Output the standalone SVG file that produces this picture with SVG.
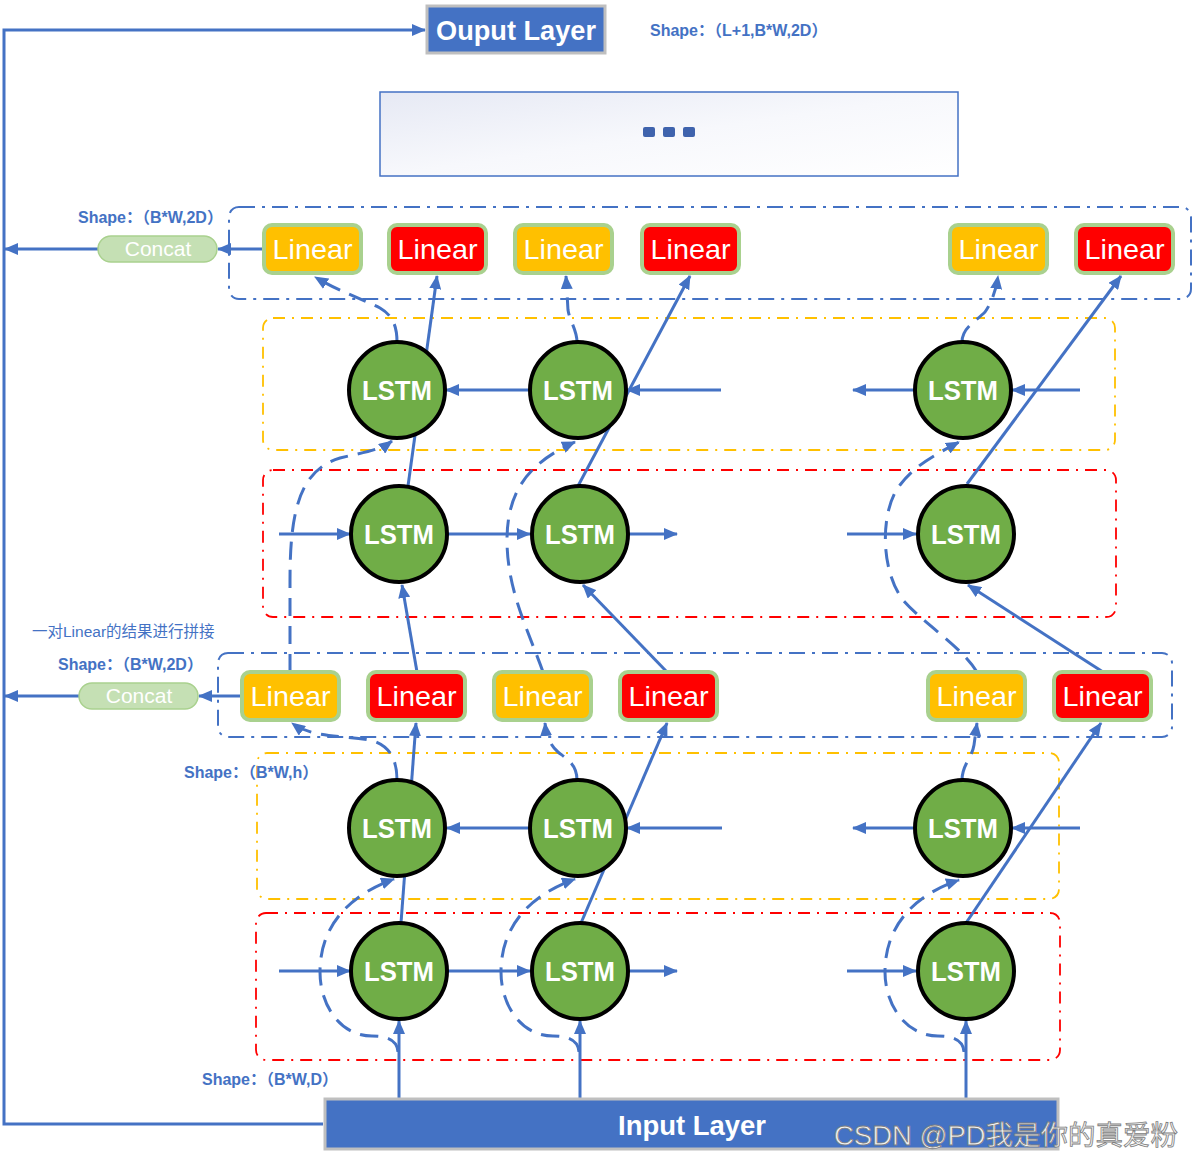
<svg xmlns="http://www.w3.org/2000/svg" width="1194" height="1159" viewBox="0 0 1194 1159">
<defs>
<linearGradient id="g1" x1="0" y1="0" x2="1" y2="1">
<stop offset="0" stop-color="#E6E9F4"/>
<stop offset="0.5" stop-color="#F7F8FC"/>
<stop offset="1" stop-color="#FFFFFF"/>
</linearGradient>
<marker id="ah" viewBox="0 0 14 12" refX="13" refY="6" markerWidth="14" markerHeight="12" orient="auto" markerUnits="userSpaceOnUse">
<path d="M0,0 L14,6 L0,12 z" fill="#4472C4"/>
</marker>
</defs>
<style>
.conn{fill:none;stroke:#4472C4;stroke-width:3}
.dash{stroke-dasharray:18 10}
.lin rect{stroke:#A9D18E;stroke-width:4}
.ly rect{fill:#FFC000}
.lr rect{fill:#FF0000}
.lin text{font-family:"Liberation Sans",Arial,sans-serif;font-size:28px;fill:#fff;text-anchor:middle}
.lstm circle{fill:#70AD47;stroke:#000;stroke-width:4}
.lstm text{font-family:"Liberation Sans",Arial,sans-serif;font-weight:bold;font-size:27px;fill:#fff;text-anchor:middle}
.shape{font-family:"Liberation Sans","Noto Sans CJK SC",sans-serif;font-weight:bold;font-size:16px;fill:#4472C4}
.fb{fill:none;stroke:#4472C4;stroke-width:2;stroke-dasharray:16 7 3 7}
.fy{fill:none;stroke:#FFC000;stroke-width:1.8;stroke-dasharray:12 7 2 7}
.fr{fill:none;stroke:#FF0000;stroke-width:1.8;stroke-dasharray:12 7 2 7}
.concat rect{fill:#C5E0B4;stroke:#A9D18E;stroke-width:1.5}
.concat text{font-family:"Liberation Sans",Arial,sans-serif;font-size:21px;fill:#fff;text-anchor:middle}
.layer rect{fill:#4472C4;stroke:#BFBFBF;stroke-width:3}
.layer text{font-family:"Liberation Sans",Arial,sans-serif;font-weight:bold;font-size:28px;fill:#fff;text-anchor:middle}
</style>
<rect width="1194" height="1159" fill="#fff"/>

<!-- frames -->
<g id="frames">
<rect class="fb" x="229" y="207" width="962" height="92" rx="10"/>
<rect class="fy" x="263" y="318" width="852" height="132" rx="10"/>
<rect class="fr" x="263" y="470" width="853" height="147" rx="10"/>
<rect class="fb" x="218" y="653" width="954" height="84" rx="10"/>
<rect class="fy" x="257" y="753" width="802" height="146" rx="10"/>
<rect class="fr" x="256" y="913" width="804" height="147" rx="10"/>
</g>

<!-- texts -->
<g id="labels">
<text class="shape" x="650" y="36">Shape：（L+1,B*W,2D）</text>
<text class="shape" x="78" y="223">Shape：（B*W,2D）</text>
<text class="shape" x="58" y="670">Shape：（B*W,2D）</text>
<text class="shape" x="184" y="778">Shape：（B*W,h）</text>
<text class="shape" x="202" y="1085">Shape：（B*W,D）</text>
<text x="32" y="637" font-family="'Liberation Sans','Noto Sans CJK SC',sans-serif" font-size="15.5" fill="#4472C4">一对Linear的结果进行拼接</text>
</g>

<!-- ellipsis box -->
<g id="ellipsis">
<rect x="380" y="92" width="578" height="84" fill="url(#g1)" stroke="#4472C4" stroke-width="1.5"/>
<rect x="643" y="127" width="12" height="10" rx="2" fill="#3F63AD"/>
<rect x="663" y="127" width="12" height="10" rx="2" fill="#3F63AD"/>
<rect x="683" y="127" width="12" height="10" rx="2" fill="#3F63AD"/>
</g>

<!-- connectors -->
<g id="connectors">
<path class="conn" d="M323,1124 L4,1124 L4,30 L425,30" marker-end="url(#ah)"/>
<path class="conn" d="M264,249 L218,249" marker-end="url(#ah)"/>
<path class="conn" d="M98,249 L5,249" marker-end="url(#ah)"/>
<path class="conn" d="M242,696 L199,696" marker-end="url(#ah)"/>
<path class="conn" d="M79,696 L5,696" marker-end="url(#ah)"/>

<path class="conn" d="M399,1098 L399,1021" marker-end="url(#ah)"/>
<path class="conn" d="M580,1098 L580,1021" marker-end="url(#ah)"/>
<path class="conn" d="M966,1098 L966,1021" marker-end="url(#ah)"/>

<path class="conn" d="M279,971 L350,971" marker-end="url(#ah)"/>
<path class="conn" d="M448,971 L530,971" marker-end="url(#ah)"/>
<path class="conn" d="M628,971 L677,971" marker-end="url(#ah)"/>
<path class="conn" d="M847,971 L916,971" marker-end="url(#ah)"/>

<path class="conn" d="M722,828 L627,828" marker-end="url(#ah)"/>
<path class="conn" d="M528,828 L447,828" marker-end="url(#ah)"/>
<path class="conn" d="M1080,828 L1012,828" marker-end="url(#ah)"/>
<path class="conn" d="M913,828 L853,828" marker-end="url(#ah)"/>

<path class="conn dash" d="M398,1052 Q397,1036 372,1036 C340,1036 320,1005 320,972 C320,925 350,895 394,879" marker-end="url(#ah)"/>
<path class="conn dash" d="M579,1052 Q578,1036 553,1036 C521,1036 501,1005 501,972 C501,925 531,895 575,879" marker-end="url(#ah)"/>
<path class="conn dash" d="M964,1052 Q963,1036 938,1036 C906,1036 885,1005 885,972 C885,925 915,895 959,880" marker-end="url(#ah)"/>

<path class="conn" d="M401,923 L416,723" marker-end="url(#ah)"/>
<path class="conn" d="M581,923 L667,723" marker-end="url(#ah)"/>
<path class="conn" d="M966,923 L1101,723" marker-end="url(#ah)"/>

<path class="conn dash" d="M397,780 C397,760 390,745 370,740 C340,735 312,738 292,723" marker-end="url(#ah)"/>
<path class="conn dash" d="M577,780 C577,765 568,760 558,752 C550,745 546,735 545,723" marker-end="url(#ah)"/>
<path class="conn dash" d="M962,780 C962,765 972,758 974,745 L977,723" marker-end="url(#ah)"/>

<path class="conn" d="M417,672 L402,585" marker-end="url(#ah)"/>
<path class="conn" d="M667,672 L583,585" marker-end="url(#ah)"/>
<path class="conn" d="M1103,672 L968,585" marker-end="url(#ah)"/>

<path class="conn dash" d="M290,672 L290,580 C290,510 300,470 340,458 C365,452 380,450 392,441" marker-end="url(#ah)"/>
<path class="conn dash" d="M543,672 C528,630 507,590 507,540 C507,490 530,462 575,442" marker-end="url(#ah)"/>
<path class="conn dash" d="M977,672 C960,645 925,625 903,600 C880,570 880,510 900,485 C915,465 935,455 959,442" marker-end="url(#ah)"/>

<path class="conn" d="M279,534 L350,534" marker-end="url(#ah)"/>
<path class="conn" d="M448,534 L530,534" marker-end="url(#ah)"/>
<path class="conn" d="M628,534 L677,534" marker-end="url(#ah)"/>
<path class="conn" d="M847,534 L916,534" marker-end="url(#ah)"/>

<path class="conn" d="M721,390 L627,390" marker-end="url(#ah)"/>
<path class="conn" d="M528,390 L446,390" marker-end="url(#ah)"/>
<path class="conn" d="M1080,390 L1012,390" marker-end="url(#ah)"/>
<path class="conn" d="M914,390 L853,390" marker-end="url(#ah)"/>

<path class="conn" d="M408,486 L437,276" marker-end="url(#ah)"/>
<path class="conn" d="M578,486 L690,276" marker-end="url(#ah)"/>
<path class="conn" d="M967,484 L1121,276" marker-end="url(#ah)"/>

<path class="conn dash" d="M397,342 C397,325 392,315 380,308 C365,300 340,292 315,277" marker-end="url(#ah)"/>
<path class="conn dash" d="M577,342 C577,330 570,322 568,310 L566,276" marker-end="url(#ah)"/>
<path class="conn dash" d="M962,342 C962,328 975,322 985,312 C992,302 996,290 998,276" marker-end="url(#ah)"/>
</g>

<g id="output-layer" class="layer">
<rect x="427" y="6" width="178" height="47"/>
<text x="516" y="40" textLength="160" lengthAdjust="spacingAndGlyphs">Ouput Layer</text>
</g>
<g id="input-layer" class="layer">
<rect x="325" y="1099" width="733" height="50"/>
<text x="692" y="1135" textLength="148" lengthAdjust="spacingAndGlyphs">Input Layer</text>
</g>

<g id="concat-2" class="concat">
<rect x="98" y="236" width="119" height="26" rx="13"/>
<text x="158" y="256">Concat</text>
</g>
<g id="concat-1" class="concat">
<rect x="79" y="683" width="119" height="26" rx="13"/>
<text x="139" y="703">Concat</text>
</g>

<g id="l2-lin-y1" class="lin ly"><rect x="264" y="225" width="97" height="48" rx="8"/><text x="312.5" y="259" textLength="80" lengthAdjust="spacingAndGlyphs">Linear</text></g>
<g id="l2-lin-r1" class="lin lr"><rect x="389" y="225" width="97" height="48" rx="8"/><text x="437.5" y="259" textLength="80" lengthAdjust="spacingAndGlyphs">Linear</text></g>
<g id="l2-lin-y2" class="lin ly"><rect x="515" y="225" width="97" height="48" rx="8"/><text x="563.5" y="259" textLength="80" lengthAdjust="spacingAndGlyphs">Linear</text></g>
<g id="l2-lin-r2" class="lin lr"><rect x="642" y="225" width="97" height="48" rx="8"/><text x="690.5" y="259" textLength="80" lengthAdjust="spacingAndGlyphs">Linear</text></g>
<g id="l2-lin-y3" class="lin ly"><rect x="950" y="225" width="97" height="48" rx="8"/><text x="998.5" y="259" textLength="80" lengthAdjust="spacingAndGlyphs">Linear</text></g>
<g id="l2-lin-r3" class="lin lr"><rect x="1076" y="225" width="97" height="48" rx="8"/><text x="1124.5" y="259" textLength="80" lengthAdjust="spacingAndGlyphs">Linear</text></g>

<g id="l1-lin-y1" class="lin ly"><rect x="242" y="672" width="97" height="48" rx="8"/><text x="290.5" y="706" textLength="80" lengthAdjust="spacingAndGlyphs">Linear</text></g>
<g id="l1-lin-r1" class="lin lr"><rect x="368" y="672" width="97" height="48" rx="8"/><text x="416.5" y="706" textLength="80" lengthAdjust="spacingAndGlyphs">Linear</text></g>
<g id="l1-lin-y2" class="lin ly"><rect x="494" y="672" width="97" height="48" rx="8"/><text x="542.5" y="706" textLength="80" lengthAdjust="spacingAndGlyphs">Linear</text></g>
<g id="l1-lin-r2" class="lin lr"><rect x="620" y="672" width="97" height="48" rx="8"/><text x="668.5" y="706" textLength="80" lengthAdjust="spacingAndGlyphs">Linear</text></g>
<g id="l1-lin-y3" class="lin ly"><rect x="928" y="672" width="97" height="48" rx="8"/><text x="976.5" y="706" textLength="80" lengthAdjust="spacingAndGlyphs">Linear</text></g>
<g id="l1-lin-r3" class="lin lr"><rect x="1054" y="672" width="97" height="48" rx="8"/><text x="1102.5" y="706" textLength="80" lengthAdjust="spacingAndGlyphs">Linear</text></g>

<g id="l2-bwd-1" class="lstm"><circle cx="397" cy="390" r="48"/><text x="397" y="400" textLength="70" lengthAdjust="spacingAndGlyphs">LSTM</text></g>
<g id="l2-bwd-2" class="lstm"><circle cx="578" cy="390" r="48"/><text x="578" y="400" textLength="70" lengthAdjust="spacingAndGlyphs">LSTM</text></g>
<g id="l2-bwd-3" class="lstm"><circle cx="963" cy="390" r="48"/><text x="963" y="400" textLength="70" lengthAdjust="spacingAndGlyphs">LSTM</text></g>
<g id="l2-fwd-1" class="lstm"><circle cx="399" cy="534" r="48"/><text x="399" y="544" textLength="70" lengthAdjust="spacingAndGlyphs">LSTM</text></g>
<g id="l2-fwd-2" class="lstm"><circle cx="580" cy="534" r="48"/><text x="580" y="544" textLength="70" lengthAdjust="spacingAndGlyphs">LSTM</text></g>
<g id="l2-fwd-3" class="lstm"><circle cx="966" cy="534" r="48"/><text x="966" y="544" textLength="70" lengthAdjust="spacingAndGlyphs">LSTM</text></g>
<g id="l1-bwd-1" class="lstm"><circle cx="397" cy="828" r="48"/><text x="397" y="838" textLength="70" lengthAdjust="spacingAndGlyphs">LSTM</text></g>
<g id="l1-bwd-2" class="lstm"><circle cx="578" cy="828" r="48"/><text x="578" y="838" textLength="70" lengthAdjust="spacingAndGlyphs">LSTM</text></g>
<g id="l1-bwd-3" class="lstm"><circle cx="963" cy="828" r="48"/><text x="963" y="838" textLength="70" lengthAdjust="spacingAndGlyphs">LSTM</text></g>
<g id="l1-fwd-1" class="lstm"><circle cx="399" cy="971" r="48"/><text x="399" y="981" textLength="70" lengthAdjust="spacingAndGlyphs">LSTM</text></g>
<g id="l1-fwd-2" class="lstm"><circle cx="580" cy="971" r="48"/><text x="580" y="981" textLength="70" lengthAdjust="spacingAndGlyphs">LSTM</text></g>
<g id="l1-fwd-3" class="lstm"><circle cx="966" cy="971" r="48"/><text x="966" y="981" textLength="70" lengthAdjust="spacingAndGlyphs">LSTM</text></g>

<text x="834" y="1145" font-family="'Liberation Sans','Noto Sans CJK SC',sans-serif" font-size="27" fill="#F2F2F2" stroke="#808080" stroke-width="0.8" textLength="344" lengthAdjust="spacingAndGlyphs">CSDN @PD我是你的真爱粉</text>
</svg>
